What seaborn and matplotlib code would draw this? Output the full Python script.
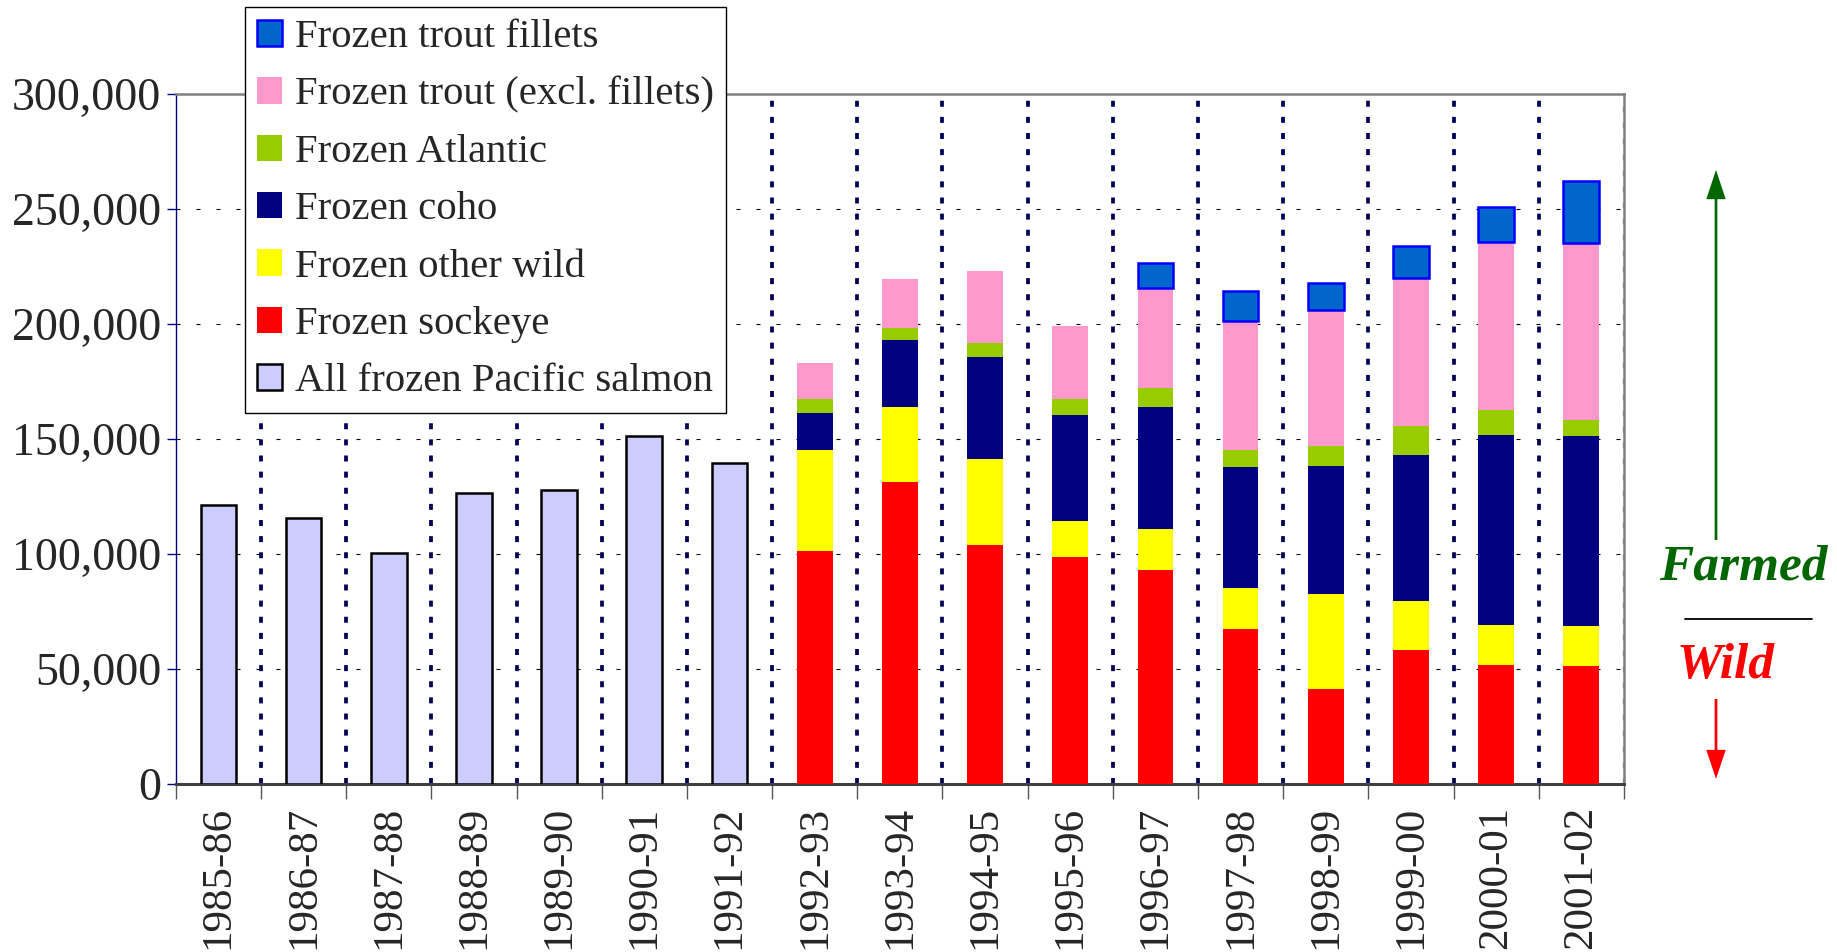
import numpy as np
import pandas as pd
import matplotlib
matplotlib.use('Agg')
import matplotlib.pyplot as plt
import seaborn as sns
from matplotlib.ticker import FuncFormatter

years = ['1985-86', '1986-87', '1987-88', '1988-89', '1989-90', '1990-91', '1991-92',
         '1992-93', '1993-94', '1994-95', '1995-96', '1996-97', '1997-98', '1998-99',
         '1999-00', '2000-01', '2001-02']

# tonnes; None = no bar that year
pacific = [121300, 115600, 100400, 126400, 127500, 151000, 139400,
           None, None, None, None, None, None, None, None, None, None]
sockeye = [None, None, None, None, None, None, None,
           101100, 131400, 104000, 98800, 92800, 67200, 41100, 58200, 51700, 51200]
other_wild = [None, None, None, None, None, None, None,
              43800, 32300, 37100, 15500, 17900, 18100, 41300, 21300, 17500, 17200]
coho = [None, None, None, None, None, None, None,
        16200, 29200, 44400, 46100, 53000, 52600, 55800, 63600, 82400, 82800]
atlantic = [None, None, None, None, None, None, None,
            6300, 5400, 6300, 7000, 8200, 7400, 8700, 12600, 10800, 7000]
trout = [None, None, None, None, None, None, None,
         15400, 21100, 31200, 31600, 43700, 56000, 59100, 64000, 73200, 76800]
fillets = [None, None, None, None, None, None, None,
           None, None, None, None, 11000, 13000, 11900, 13900, 15300, 27200]

yticks = [0, 50000, 100000, 150000, 200000, 250000, 300000]

sns.set_theme(style='white')
plt.rcParams['font.family'] = ['Liberation Serif', 'DejaVu Serif']

fig = plt.figure(figsize=(18.37, 9.52), dpi=100)
ax = fig.add_axes([0.0957, 0.1767, 0.884 - 0.0957, 0.9016 - 0.1767])

layers = [
    ('All frozen Pacific salmon', pacific, '#CCCCFF', 'black', 1.8),
    ('Frozen sockeye', sockeye, '#FF0000', 'none', 0),
    ('Frozen other wild', other_wild, '#FFFF00', 'none', 0),
    ('Frozen coho', coho, '#000080', 'none', 0),
    ('Frozen Atlantic', atlantic, '#99CC00', 'none', 0),
    ('Frozen trout (excl. fillets)', trout, '#FF99CC', 'none', 0),
    ('Frozen trout fillets', fillets, '#0066CC', '#0000FF', 1.8),
]

base = np.zeros(len(years))
for name, vals, fc, ec, lw in layers:
    v = np.array([np.nan if x is None else x for x in vals], dtype=float)
    df = pd.DataFrame({'year': years, 'value': v}).dropna()
    sns.barplot(data=df, x='year', y='value', order=years, color=fc, saturation=1,
                width=0.42, edgecolor=ec, linewidth=lw, label=name, errorbar=None,
                ax=ax, zorder=3)
    # stack this layer on top of the ones already drawn
    for bar in ax.containers[-1]:
        i = int(round(bar.get_x() + bar.get_width() / 2))
        bar.set_y(base[i])
    base += np.nan_to_num(v)

ax.set_xlim(-0.5, len(years) - 0.5)
ax.set_ylim(0, 300000)
ax.set_xlabel('')
ax.set_ylabel('')

# grid: dashed horizontals, dotted verticals between categories
ax.set_yticks(yticks)
ax.yaxis.set_major_formatter(FuncFormatter(lambda y, p: f'{int(y):,}'))
for y in yticks[1:-1]:
    ax.axhline(y, color='black', lw=0.8, ls=(0, (3.6, 14.4)), zorder=1)
for b in np.arange(0.5, len(years) - 1, 1):
    ax.axvline(b, color='#000055', lw=2.7, ls=(0, (1.6, 2.7)), zorder=1)
ax.axvline(len(years) - 0.5, color='#909090', lw=2.4, ls=(0, (1.8, 3.0)), zorder=1)

ax.set_xticks(range(len(years)))
ax.set_xticklabels(years, rotation=90, fontsize=31)
ax.set_xticks(np.arange(-0.5, len(years)), minor=True)
ax.tick_params(axis='x', which='major', length=0, pad=16)
ax.tick_params(axis='x', which='minor', length=11, width=1, color='#555555',
               direction='out', bottom=True)
ax.tick_params(axis='y', which='major', length=6.5, width=1, color='#000080',
               direction='out', labelsize=33, pad=4, left=True)

for s in ['top', 'right']:
    ax.spines[s].set_color('#808080')
    ax.spines[s].set_linewidth(1.8)
ax.spines['left'].set_color('#000080')
ax.spines['left'].set_linewidth(1.0)
ax.spines['bottom'].set_color('#404040')
ax.spines['bottom'].set_linewidth(2.2)

handles, labels = ax.get_legend_handles_labels()
order = ['Frozen trout fillets', 'Frozen trout (excl. fillets)', 'Frozen Atlantic',
         'Frozen coho', 'Frozen other wild', 'Frozen sockeye', 'All frozen Pacific salmon']
hmap = dict(zip(labels, handles))
leg = ax.legend([hmap[k] for k in order], order, loc='upper left',
                bbox_to_anchor=(245 / 1837, 1 - 7 / 952), bbox_transform=fig.transFigure,
                frameon=True, fancybox=False, framealpha=1, edgecolor='black',
                fontsize=29.3, handlelength=0.62, handleheight=0.62, handletextpad=0.3,
                labelspacing=0.5, borderpad=0.3, borderaxespad=0)
leg.get_frame().set_linewidth(1.0)
leg.set_zorder(10)

# farmed / wild annotation on the right
W, H = 1837, 952
arrow = 'simple,head_width=1.0,head_length=1.5,tail_width=0.14'
ax.annotate('', xy=(1716 / W, 1 - 170 / H), xytext=(1716 / W, 1 - 540 / H),
            xycoords='figure fraction',
            arrowprops=dict(arrowstyle=arrow, color='#006600', lw=0, mutation_scale=14,
                            shrinkA=0, shrinkB=0))
fig.text(1743 / W, 1 - 567 / H, 'Farmed', color='#006600', fontsize=37,
         fontweight='bold', fontstyle='italic', ha='center', va='center')
fig.add_artist(plt.Line2D([1685 / W, 1812 / W], [1 - 619 / H, 1 - 619 / H],
                          color='black', lw=1.3))
fig.text(1725 / W, 1 - 666 / H, 'Wild', color='#FF0000', fontsize=37,
         fontweight='bold', fontstyle='italic', ha='center', va='center')
ax.annotate('', xy=(1716 / W, 1 - 779 / H), xytext=(1716 / W, 1 - 699 / H),
            xycoords='figure fraction',
            arrowprops=dict(arrowstyle=arrow, color='#FF0000', lw=0, mutation_scale=14,
                            shrinkA=0, shrinkB=0))

fig.savefig('out.png', dpi=100)
